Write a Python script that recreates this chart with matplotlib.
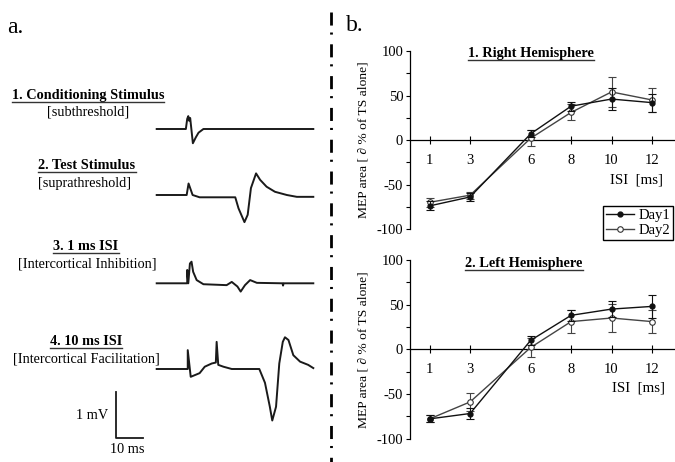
import matplotlib
matplotlib.use('Agg')
import matplotlib.pyplot as plt
from matplotlib.lines import Line2D
from matplotlib.ticker import MultipleLocator

plt.rcParams['font.family'] = ['Liberation Serif', 'DejaVu Serif']
plt.rcParams['lines.scale_dashes'] = False
plt.rcParams['axes.unicode_minus'] = False

# ---------------- data ----------------
isi = [1, 3, 6, 8, 10, 12]
x_ticks = [1, 3, 6, 8, 10, 12]

right_day1 = [-74, -64, 7, 38, 46, 42]
right_day1_err = [5, 4, 4, 5, 12, 10]
right_day2 = [-70, -62, 2, 31, 54, 45]
right_day2_err = [5, 4, 9, 9, 17, 13]

left_day1 = [-78, -72, 10, 38, 45, 48]
left_day1_err = [4, 6, 5, 6, 9, 13]
left_day2 = [-78, -59, 2, 31, 35, 31]
left_day2_err = [4, 10, 11, 13, 16, 13]

# EMG traces: time (ms) and amplitude (mV, relative to baseline)
trace1_t = [0, 10.8, 11.3, 11.7, 12.0, 12.4, 13.4, 14.5, 15.5, 17.3, 58]
trace1_v = [0, 0, 0.22, 0.28, 0.18, 0.24, -0.31, -0.18, -0.08, 0, 0]

trace2_t = [0, 11.1, 11.8, 12.4, 13.3, 15.9, 29.1, 30.3, 32.5, 33.7, 34.9, 36.8,
            38.3, 40.7, 43.8, 48.2, 51.9, 58]
trace2_v = [0, 0, 0.25, 0.15, 0, -0.05, -0.05, -0.29, -0.59, -0.43, 0.15, 0.47,
            0.33, 0.18, 0.07, 0, -0.04, -0.04]

trace3_t = [0, 11.3, 11.3, 11.7, 12.3, 12.9, 13.5, 14.8, 17.3, 25.9, 27.8, 29.9,
            31.1, 32.7, 34.6, 37.1, 46.6, 46.8, 47.0, 58]
trace3_v = [0, 0, 0.29, 0, 0.43, 0.47, 0.25, 0.07, -0.02, -0.04, 0.03, -0.07,
            -0.18, -0.04, 0.07, 0.01, 0, -0.05, 0, 0]

trace4_t = [0, 11.5, 11.5, 12.6, 15.9, 17.8, 20.4, 21.9, 22.2, 22.8, 24.7, 27.8,
            38.0, 40.1, 41.9, 42.8, 44.2, 45.4, 46.7, 47.5, 48.8, 50.6, 53.1,
            56.1, 58]
trace4_v = [0, 0, 0.41, -0.17, -0.09, 0.05, 0.12, 0.14, 0.59, 0.09, 0.05, 0,
            0, -0.30, -0.82, -1.12, -0.82, 0.12, 0.59, 0.69, 0.63, 0.30, 0.16,
            0.09, 0.02]

scale_mv = 1
scale_ms = 10

# ---------------- layout ----------------
W, H = 675, 462
fig = plt.figure(figsize=(W / 100, H / 100), dpi=100)
fig.patch.set_facecolor('white')


def fx(x):
    return x / W


def fy(y):
    return 1 - y / H


PX_PER_MS = 2.7
PX_PER_MV = 46.0

# left panel axes in ms / mV units
axl = fig.add_axes([0, 0, 330 / W, 1])
axl.set_xlim(0, 330 / PX_PER_MS)
axl.set_ylim(-H / PX_PER_MV, 0)
axl.axis('off')

t0 = 156.7 / PX_PER_MS
traces = [(trace1_t, trace1_v, 129), (trace2_t, trace2_v, 195),
          (trace3_t, trace3_v, 283.3), (trace4_t, trace4_v, 369)]
for tt, vv, base in traces:
    axl.plot([t0 + t for t in tt], [v - base / PX_PER_MV for v in vv],
             color='#1a1a1a', lw=1.4, solid_joinstyle='round')

# scale bar
sb_x = 116 / PX_PER_MS
sb_y = -438 / PX_PER_MV
axl.plot([sb_x, sb_x, sb_x + scale_ms], [sb_y + scale_mv, sb_y, sb_y],
         color='#1a1a1a', lw=1.3)

underlined = []

FS = 10.3


def ftext(x, y, s, size=FS, bold=False, ul=False, **kw):
    t = fig.text(fx(x), fy(y), s, fontsize=size,
                 fontweight='bold' if bold else 'normal',
                 ha=kw.pop('ha', 'center'), va=kw.pop('va', 'baseline'), **kw)
    if ul:
        underlined.append(t)
    return t


ftext(15, 33, 'a.', size=17)
ftext(355, 31, 'b.', size=17)

ftext(88, 99.3, '1. Conditioning Stimulus', bold=True, ul=True)
ftext(88, 115, '[subthreshold]')
ftext(87, 169, '2. Test Stimulus', bold=True, ul=True)
ftext(85, 186.7, '[suprathreshold]')
ftext(86, 250, '3. 1 ms ISI', bold=True, ul=True)
ftext(87, 267.3, '[Intercortical Inhibition]')
ftext(86, 345, '4. 10 ms ISI', bold=True, ul=True)
ftext(86, 362.7, '[Intercortical Facilitation]')
ftext(92, 419.3, '1 mV')
ftext(127.5, 453.3, '10 ms')

# dash-dot separator
sep = Line2D([fx(331), fx(331)], [fy(12), fy(462)], transform=fig.transFigure,
             color='black', lw=2.0)
sep.set_dashes([9.4, 5, 1.5, 7])
fig.add_artist(sep)

# ---------------- right panel ----------------
X0 = 409.5
PX_PER_UNIT = 20.2


def make_ax(top_px, bot_px):
    ax = fig.add_axes([fx(X0), fy(bot_px), (W - X0) / W, (bot_px - top_px) / H])
    ax.set_xlim(0, (W - X0) / PX_PER_UNIT)
    ax.set_ylim(-100, 100)
    ax.patch.set_alpha(0)
    for s in ['top', 'right']:
        ax.spines[s].set_visible(False)
    ax.spines['bottom'].set_position(('data', 0))
    ax.spines['left'].set_linewidth(0.9)
    ax.spines['bottom'].set_linewidth(0.9)
    ax.yaxis.set_major_locator(MultipleLocator(50))
    ax.yaxis.set_minor_locator(MultipleLocator(25))
    ax.set_xticks(x_ticks)
    ax.set_xticklabels([str(v) for v in x_ticks])
    ax.tick_params(axis='y', which='both', direction='out', length=3, width=0.8,
                   labelsize=10.5, pad=1.5)
    ax.tick_params(axis='x', which='both', direction='inout', length=6,
                   width=0.8, labelsize=10.5, pad=7)
    return ax


def draw(ax, d1, e1, d2, e2):
    ax.errorbar(isi, d2, yerr=e2, fmt='-o', color='#444444', lw=1.0,
                elinewidth=0.8, capsize=3, capthick=0.8, ms=4, mfc='white',
                mec='#333333', mew=0.8, zorder=3)
    ax.errorbar(isi, d1, yerr=e1, fmt='-o', color='#111111', lw=1.0,
                elinewidth=0.8, capsize=3, capthick=0.8, ms=3.5, mfc='#111111',
                mec='#111111', zorder=4)


ax1 = make_ax(51, 229)
draw(ax1, right_day1, right_day1_err, right_day2, right_day2_err)
ax2 = make_ax(260, 438.5)
draw(ax2, left_day1, left_day1_err, left_day2, left_day2_err)

ftext(531, 57.3, '1. Right Hemisphere', bold=True, ul=True)
ftext(524, 267.3, '2. Left Hemisphere', bold=True, ul=True)
ftext(663, 183.3, 'ISI  [ms]', size=10.8, ha='right')
ftext(665, 391.7, 'ISI  [ms]', size=10.8, ha='right')
ftext(363, 140, 'MEP area [ \u2202 % of TS alone]', size=9.7, rotation=90,
      va='center')
ftext(363, 350, 'MEP area [ \u2202 % of TS alone]', size=9.7, rotation=90,
      va='center')

handles = [Line2D([], [], color='#111111', lw=1.0, marker='o', ms=3.5,
                  mfc='#111111', mec='#111111'),
           Line2D([], [], color='#444444', lw=1.0, marker='o', ms=4,
                  mfc='white', mec='#333333', mew=0.8)]
fig.legend(handles, ['Day1', 'Day2'], loc='upper right',
           bbox_to_anchor=(fx(673), fy(206)), fontsize=10.5, frameon=True,
           fancybox=False, edgecolor='black', framealpha=1, borderpad=0.2,
           labelspacing=0.1, handlelength=1.9, handletextpad=0.3,
           borderaxespad=0)

# underlines beneath bold headings
fig.canvas.draw()
renderer = fig.canvas.get_renderer()
for t in underlined:
    bb = t.get_window_extent(renderer)
    base_y = t.get_position()[1] * H
    fig.add_artist(Line2D([bb.x0 / W, bb.x1 / W], [(base_y - 2.6) / H] * 2,
                          transform=fig.transFigure, color='#333333', lw=1.0))

fig.savefig('out.png', dpi=100, facecolor='white')
